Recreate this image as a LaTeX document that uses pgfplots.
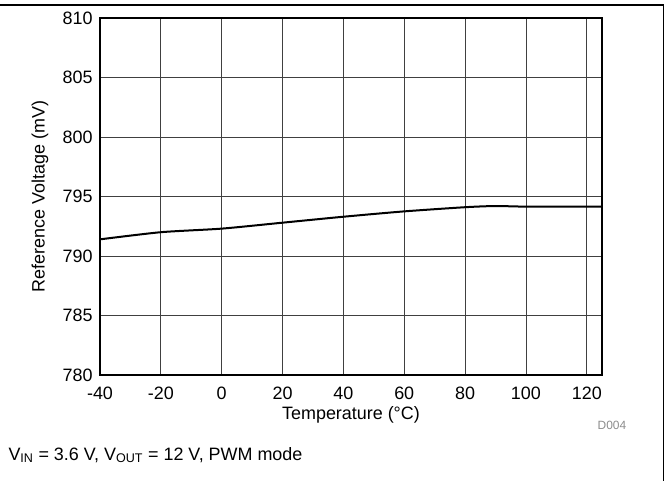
\documentclass[border=0pt]{standalone}
\usepackage{pgfplots}
\pgfplotsset{compat=1.18}
\usepackage{fontspec}
\setmainfont{Liberation Sans}
\newcommand{\lbl}{\fontsize{18}{21}\selectfont}
\begin{document}
\begin{tikzpicture}
\useasboundingbox (0bp,0bp) rectangle (669bp,481bp);
\draw[line width=1.5bp] (0bp,476bp) -- (663.5bp,476bp) -- (663.5bp,0bp);
\begin{axis}[
    at={(100bp,106bp)}, anchor=south west,
    width=502bp, height=357bp, scale only axis,
    xmin=-40, xmax=125, ymin=780, ymax=810,
    xtick={-40,-20,0,20,40,60,80,100,120},
    xticklabels={-40,-20,0,20,40,60,80,100,120},
    ytick={780,785,790,795,800,805,810},
    yticklabels={780,785,790,795,800,805,810},
    grid=major,
    major grid style={black!75, line width=0.8bp},
    axis line style={line width=2bp},
    tick style={draw=none},
    tick label style={font=\lbl},
    xticklabel style={yshift=-8bp},
    yticklabel style={xshift=-4bp},
]
\addplot[black, line width=2bp, smooth, tension=0.4] coordinates {
(-40,791.4) (-20,792.0) (0,792.3) (20,792.8) (40,793.3)
(60,793.75) (80,794.1) (90,794.2) (100,794.15) (125,794.15)
};
\end{axis}
\node[rotate=90] at (40bp,284.5bp) {\lbl Reference Voltage (mV)};
\node at (351bp,66bp) {\lbl Temperature (\textdegree C)};
\node[text=black!45] at (612bp,56bp) {\fontsize{12}{14}\selectfont D004};
\node[anchor=west] at (5bp,26bp) {\lbl V\textsubscript{IN} = 3.6 V, V\textsubscript{OUT} = 12 V, PWM mode};
\end{tikzpicture}
\end{document}
